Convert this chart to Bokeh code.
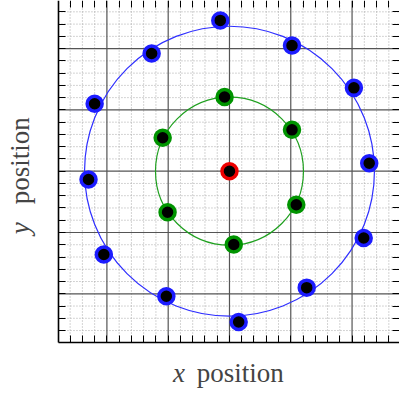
import math

from bokeh.embed import file_html
from bokeh.models import FixedTicker, Label, LinearAxis, Range1d
from bokeh.plotting import figure
from bokeh.resources import INLINE

# Outer ring of particles (blue) and the reference circle they sit on
blue_x = [-0.15, 1.02, 2.03, 2.28, 2.19, 1.26, 0.15, -1.03, -2.05, -2.30, -2.20, -1.27]
blue_y = [2.46, 2.05, 1.36, 0.13, -1.09, -1.90, -2.46, -2.04, -1.36, -0.135, 1.10, 1.92]
blue_radius = 2.365

# Inner ring of particles (green) and its reference circle
green_x = [-0.08, 1.02, 1.09, 0.07, -1.01, -1.09]
green_y = [1.21, 0.675, -0.548, -1.196, -0.669, 0.545]
green_radius = 1.207

# Central particle (red)
center_x = [0.0]
center_y = [0.0]

# Tick positions (ticks carry no labels)
major_ticks = [-2, -1, 0, 1, 2]
minor_ticks = [-2.6, -2.4, -2.2, -1.8, -1.6, -1.4, -1.2, -0.8, -0.6, -0.4, -0.2,
               0.2, 0.4, 0.6, 0.8, 1.2, 1.4, 1.6, 1.8, 2.2, 2.4, 2.6]

x_label_symbol = "x"
y_label_symbol = "y"
label_word = "position"

FONT = "'Liberation Serif', serif"

# Extent of the boxed plotting area (data units)
box_left, box_right = -2.79, 2.774
box_bottom, box_top = -2.795, 2.785

# The frame covers the whole canvas so the axis titles can live inside it
p = figure(
    width=399, height=396,
    x_range=Range1d(-3.736, 2.774), y_range=Range1d(-3.676, 2.785),
    x_axis_location=None, y_axis_location=None,
    output_backend="svg", toolbar_location=None,
    min_border=0, min_border_left=0, min_border_right=0,
    min_border_top=0, min_border_bottom=0,
    background_fill_color="white", border_fill_color="white",
)
p.outline_line_color = None
p.xgrid.visible = False
p.ygrid.visible = False

ticker = FixedTicker(ticks=major_ticks, minor_ticks=minor_ticks)


def grid_lines(ticks, color, width, dash):
    n = len(ticks)
    # vertical lines at each tick, spanning the box height
    p.segment(x0=ticks, x1=ticks, y0=[box_bottom] * n, y1=[box_top] * n,
              line_color=color, line_width=width, line_dash=dash)
    # horizontal lines at each tick, spanning the box width
    p.segment(x0=[box_left] * n, x1=[box_right] * n, y0=ticks, y1=ticks,
              line_color=color, line_width=width, line_dash=dash)


grid_lines(minor_ticks, "#a8a8a8", 1, "1 2")
grid_lines(major_ticks, "#555555", 1.2, "solid")


def make_axis(location, bounds, show_line):
    ax = LinearAxis(ticker=ticker, fixed_location=location, bounds=bounds)
    ax.major_tick_in = 7
    ax.major_tick_out = 0
    ax.minor_tick_in = 7
    ax.minor_tick_out = 0
    ax.major_tick_line_color = "black"
    ax.minor_tick_line_color = "black"
    ax.major_tick_line_width = 1
    ax.minor_tick_line_width = 1
    ax.major_label_text_font_size = "0px"
    ax.major_label_text_color = None
    ax.major_label_standoff = 0
    ax.axis_line_width = 1.6
    ax.axis_line_color = "black" if show_line else None
    return ax


p.add_layout(make_axis(box_bottom, (box_left, box_right), True), "below")
p.add_layout(make_axis(box_left, (box_bottom, box_top), True), "left")
p.add_layout(make_axis(box_top, (box_left, box_right), False), "above")
p.add_layout(make_axis(box_right, (box_bottom, box_top), False), "right")

# Reference circles
p.circle(x=[0], y=[0], radius=[blue_radius], fill_color=None,
         line_color="#2f2fff", line_width=1.2)
p.circle(x=[0], y=[0], radius=[green_radius], fill_color=None,
         line_color="#1fa01f", line_width=1.2)

# Particles
p.scatter(blue_x, blue_y, size=15, fill_color="black",
          line_color="#1c1cff", line_width=3.5)
p.scatter(green_x, green_y, size=15, fill_color="black",
          line_color="#009400", line_width=3.5)
p.scatter(center_x, center_y, size=15, fill_color="black",
          line_color="#ee0000", line_width=3.5)

# Axis titles: italic symbol followed by upright word
label_size = "27px"
x_title_y = -3.30
y_title_x = -3.425
p.add_layout(Label(x=-0.92, y=x_title_y, text=x_label_symbol, text_font=FONT,
                   text_font_style="italic", text_font_size=label_size,
                   text_baseline="middle", text_align="left"))
p.add_layout(Label(x=-0.535, y=x_title_y, text=label_word, text_font=FONT,
                   text_font_size=label_size,
                   text_baseline="middle", text_align="left"))
p.add_layout(Label(x=y_title_x, y=-1.03, text=y_label_symbol, text_font=FONT,
                   text_font_style="italic", text_font_size=label_size,
                   text_baseline="middle", text_align="left", angle=math.pi / 2))
p.add_layout(Label(x=y_title_x, y=-0.54, text=label_word, text_font=FONT,
                   text_font_size=label_size,
                   text_baseline="middle", text_align="left", angle=math.pi / 2))

open("out.html", "w").write(file_html(p, INLINE))
